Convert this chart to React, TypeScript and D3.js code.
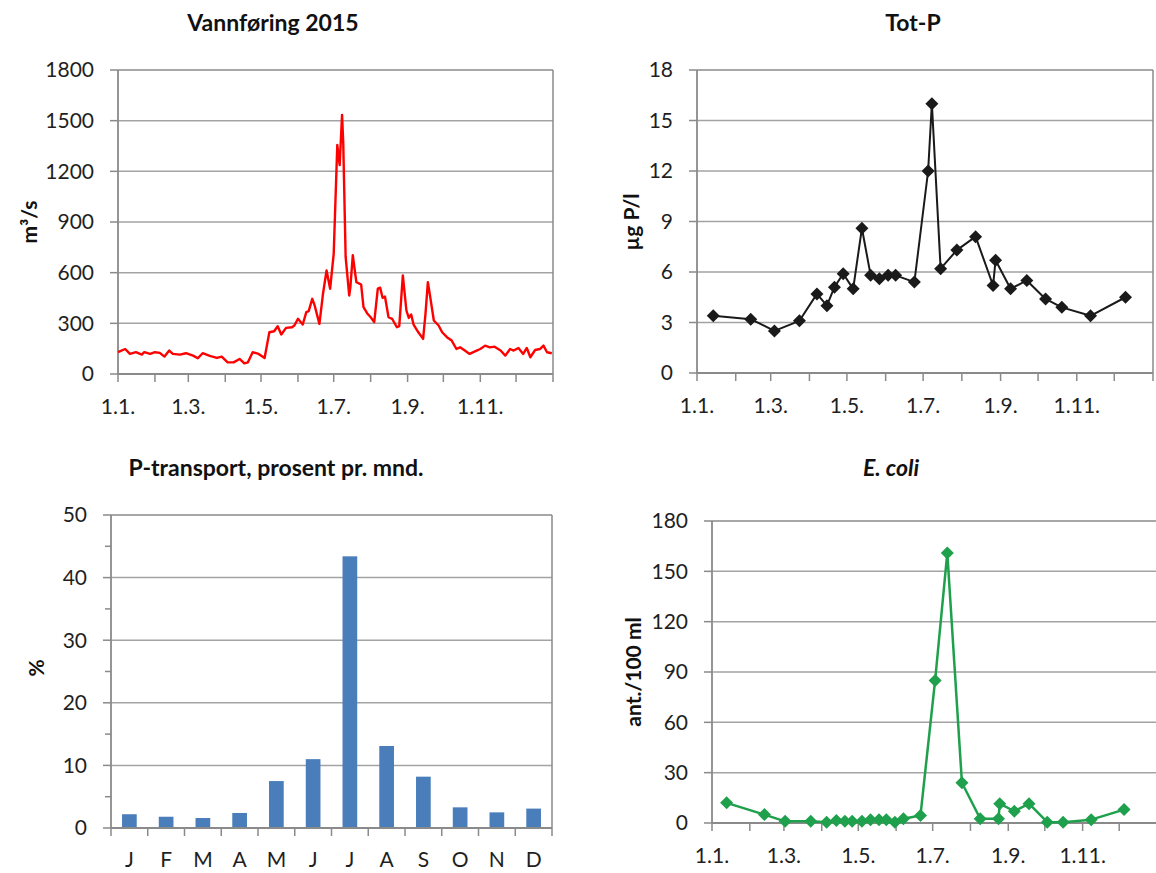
import React from 'react';
import * as d3 from 'd3';

const FONT = "Lato, 'Open Sans', sans-serif";

// ---- Data ----
const flowDays = [0,6,10,15,20,22,27,31,35,39,43,46,52,57,63,67,71,77,83,87,92,97,102,106,109,113,118,123,127,131,134,137,141,146,148,151,155,158,160,163,165,169,172,175,178,181,184,186,188,189,191,194,195,197,200,204,206,209,212,215,218,220,222,224,227,230,234,236,239,242,244,246,248,252,256,258,260,262,265,269,272,276,280,284,287,291,295,300,304,308,312,316,321,325,329,332,336,340,343,346,350,354,357,360,364];
const flowValues = [129,148,119,129,115,129,119,129,125,103,139,119,115,123,109,93,123,107,95,103,69,69,89,63,69,129,119,95,247,253,283,234,273,277,287,327,293,366,372,445,406,297,475,613,505,712,1356,1237,1534,1366,693,465,515,703,544,530,396,360,336,307,505,511,451,459,336,327,277,283,584,376,332,352,293,247,208,356,544,455,317,287,247,218,198,148,158,139,119,135,148,168,158,162,139,109,148,139,154,119,154,99,142,148,168,129,123];

const totPDays = [13,43,62,82,96,104,110,117,125,132,139,146,153,159,174,185,188,195,208,223,237,239,251,264,279,292,315,343];
const totPValues = [3.4,3.2,2.5,3.1,4.7,4.0,5.1,5.9,5.0,8.6,5.8,5.6,5.8,5.8,5.4,12,16,6.2,7.3,8.1,5.2,6.7,5.0,5.5,4.4,3.9,3.4,4.5];

const ecoliDays = [12,43,60,81,94,102,109,115,123,130,137,143,150,157,171,183,193,205,220,235,236,248,260,275,288,311,338];
const ecoliValues = [12,5,1,1,0.5,1.5,1,1,1,2,2,2,0.5,2.5,4.5,85,161,24,2.5,2.5,11.5,7,11.5,0.5,0.5,2,8];

const months = ['J','F','M','A','M','J','J','A','S','O','N','D'];
const pTransport = [2.2,1.8,1.6,2.4,7.5,11.0,43.4,13.1,8.2,3.3,2.5,3.1];

const dateTickLabels = ['1.1.','1.3.','1.5.','1.7.','1.9.','1.11.'];
const dateTickMonths = [0,2,4,6,8,10];
const flowTicks = [0,300,600,900,1200,1500,1800];
const totPTicks = [0,3,6,9,12,15,18];
const ecoliTicks = [0,30,60,90,120,150,180];
const pctTicks = [0,10,20,30,40,50];
const pctMinor = [5,15,25,35,45];

const year0 = new Date(2015, 0, 1);
const year1 = new Date(2016, 0, 1);
const toDate = (d: number) => d3.timeDay.offset(year0, d);

const AXIS = '#8a8a8a';
const GRID = '#a3a3a3';
const TICKFS = 21;

type TP = {
  left: number; right: number; top: number; bottom: number;
  yTicks: number[]; days: number[]; values: number[]; color: string;
  markers: boolean; lineWidth: number; markerSize?: number;
};

function TimePanel(p: TP) {
  const x = d3.scaleTime().domain([year0, year1]).range([p.left, p.right]);
  const yMax = p.yTicks[p.yTicks.length - 1];
  const y = d3.scaleLinear().domain([0, yMax]).range([p.bottom, p.top]);
  const pts = p.days.map((d, i) => [x(toDate(d)), y(p.values[i])] as [number, number]);
  const line = d3.line()(pts) || '';
  const monthTicks = d3.timeMonth.range(year0, d3.timeDay.offset(year1, 1));
  const s = p.markerSize || 6;
  return (
    <g>
      {p.yTicks.slice(1, -1).map(t => (
        <line key={'g' + t} x1={p.left} x2={p.right} y1={y(t)} y2={y(t)} stroke={GRID} strokeWidth={1.5} />
      ))}
      <line x1={p.left} x2={p.right} y1={p.top} y2={p.top} stroke={AXIS} strokeWidth={1.5} />
      <line x1={p.right} x2={p.right} y1={p.top} y2={p.bottom} stroke={AXIS} strokeWidth={1.5} />
      <line x1={p.left} x2={p.left} y1={p.top} y2={p.bottom} stroke={AXIS} strokeWidth={1.8} />
      <line x1={p.left} x2={p.right} y1={p.bottom} y2={p.bottom} stroke={AXIS} strokeWidth={1.8} />
      {p.yTicks.map(t => (
        <g key={'yt' + t}>
          <line x1={p.left - 8} x2={p.left} y1={y(t)} y2={y(t)} stroke={AXIS} strokeWidth={1.5} />
          <text x={p.left - 24} y={y(t)} dy="0.35em" textAnchor="end" fontSize={TICKFS} fill="#1f1f1f" fontFamily={FONT}>{t}</text>
        </g>
      ))}
      {monthTicks.map((m, i) => (
        <line key={'xt' + i} x1={x(m)} x2={x(m)} y1={p.bottom} y2={p.bottom + 8} stroke={AXIS} strokeWidth={1.5} />
      ))}
      {dateTickMonths.map((m, i) => (
        <text key={'xl' + i} x={x(new Date(2015, m, 1))} y={p.bottom + 40} textAnchor="middle" fontSize={TICKFS} fill="#1f1f1f" fontFamily={FONT}>{dateTickLabels[i]}</text>
      ))}
      <path d={line} fill="none" stroke={p.color} strokeWidth={p.lineWidth} strokeLinejoin="round" />
      {p.markers && pts.map(([px, py], i) => (
        <path key={'m' + i} d={`M${px},${py - s}L${px + s},${py}L${px},${py + s}L${px - s},${py}Z`} fill={p.color} />
      ))}
    </g>
  );
}

function BarPanel() {
  const left = 111, right = 552, top = 515, bottom = 828;
  const x = d3.scaleBand<number>().domain(months.map((_, i) => i)).range([left, right]).paddingInner(0.6).paddingOuter(0.3);
  const y = d3.scaleLinear().domain([0, 50]).range([bottom, top]);
  const step = x.step();
  return (
    <g>
      {pctTicks.slice(1, -1).map(t => (
        <line key={'g' + t} x1={left} x2={right} y1={y(t)} y2={y(t)} stroke={GRID} strokeWidth={1.5} />
      ))}
      <line x1={left} x2={right} y1={top} y2={top} stroke={AXIS} strokeWidth={1.5} />
      <line x1={right} x2={right} y1={top} y2={bottom} stroke={AXIS} strokeWidth={1.5} />
      {pTransport.map((v, i) => (
        <rect key={'b' + i} x={x(i)} y={y(v)} width={x.bandwidth()} height={bottom - y(v)} fill="#4a7ebb" />
      ))}
      <line x1={left} x2={left} y1={top} y2={bottom} stroke={AXIS} strokeWidth={1.8} />
      <line x1={left} x2={right} y1={bottom} y2={bottom} stroke={AXIS} strokeWidth={1.8} />
      {pctTicks.map(t => (
        <g key={'yt' + t}>
          <line x1={left - 8} x2={left} y1={y(t)} y2={y(t)} stroke={AXIS} strokeWidth={1.5} />
          <text x={left - 24} y={y(t)} dy="0.35em" textAnchor="end" fontSize={TICKFS} fill="#1f1f1f" fontFamily={FONT}>{t}</text>
        </g>
      ))}
      {pctMinor.map(t => (
        <line key={'mt' + t} x1={left - 6} x2={left} y1={y(t)} y2={y(t)} stroke={AXIS} strokeWidth={1.5} />
      ))}
      {d3.range(13).map(i => (
        <line key={'xt' + i} x1={left + i * step} x2={left + i * step} y1={bottom} y2={bottom + 8} stroke={AXIS} strokeWidth={1.5} />
      ))}
      {months.map((m, i) => (
        <text key={'xl' + i} x={(x(i) || 0) + x.bandwidth() / 2} y={bottom + 39} textAnchor="middle" fontSize={TICKFS} fill="#1f1f1f" fontFamily={FONT}>{m}</text>
      ))}
    </g>
  );
}

function Title({ x, y, children, italic }: { x: number; y: number; children: React.ReactNode; italic?: boolean }) {
  return (
    <text x={x} y={y} textAnchor="middle" fontSize={23} fontWeight="bold" fontStyle={italic ? 'italic' : 'normal'} fill="#111" fontFamily={FONT}>{children}</text>
  );
}

function YLabel({ x, y, children }: { x: number; y: number; children: React.ReactNode }) {
  return (
    <text transform={`translate(${x},${y}) rotate(-90)`} textAnchor="middle" dy="0.35em" fontSize={21} fontWeight="bold" fill="#111" fontFamily={FONT}>{children}</text>
  );
}

export default function App() {
  return (
    <svg width={1156} height={873} style={{ position: 'absolute', left: 0, top: 0, background: '#fff' }}>
      <rect width={1156} height={873} fill="#fff" />
      <Title x={273} y={31}>Vannføring 2015</Title>
      <Title x={913} y={31}>Tot-P</Title>
      <Title x={276} y={476}>P-transport, prosent pr. mnd.</Title>
      <Title x={891} y={476} italic>E. coli</Title>

      <YLabel x={30} y={222}>m³/s</YLabel>
      <YLabel x={632} y={222}>µg P/l</YLabel>
      <YLabel x={37} y={668}>%</YLabel>
      <YLabel x={634} y={672}>ant./100 ml</YLabel>

      <TimePanel left={118} right={553} top={70} bottom={374} yTicks={flowTicks}
        days={flowDays} values={flowValues} color="#ff0000" markers={false} lineWidth={2.4} />
      <TimePanel left={697} right={1153} top={70} bottom={373} yTicks={totPTicks}
        days={totPDays} values={totPValues} color="#1a1a1a" markers={true} lineWidth={2} markerSize={6.5} />
      <BarPanel />
      <TimePanel left={712} right={1157} top={521} bottom={823} yTicks={ecoliTicks}
        days={ecoliDays} values={ecoliValues} color="#1fa04c" markers={true} lineWidth={2.5} markerSize={6.5} />
    </svg>
  );
}
